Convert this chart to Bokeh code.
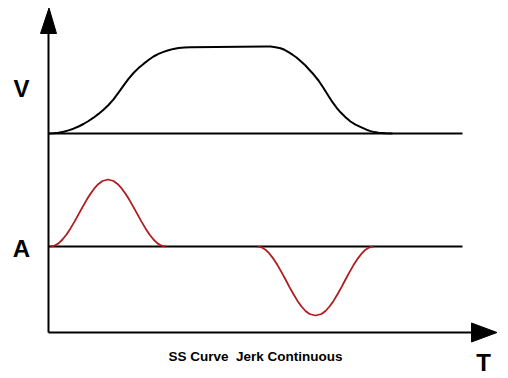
from bokeh.plotting import figure
from bokeh.models import Range1d
from bokeh.core.properties import value
from bokeh.embed import file_html
from bokeh.resources import INLINE

# Velocity curve (time, value above V baseline)
v_t = [0, 5, 10, 15, 20, 25, 30, 35, 40, 45, 50, 55, 60, 65, 70, 75, 80, 85, 90, 95,
       100, 105, 110, 115, 120, 125, 130, 136, 142,
       217, 222, 227, 232, 236, 240, 244, 248, 252, 257, 261, 265, 270, 275, 280, 284,
       288, 292, 297, 302, 307, 314, 318, 322, 326, 330, 337, 344]
v_val = [0, 0.3, 0.8, 1.8, 3.1, 4.8, 7, 9.5, 12.5, 15.8, 19.6, 23.8, 28.5, 34.2, 40.8, 47.8,
         54.7, 60.5, 65.4, 69.6, 73.5, 77, 79.6, 81.6, 83.3, 84.6, 85.5, 86, 86.3,
         87, 86.9, 86.3, 85.2, 83.7, 81.3, 78.8, 76, 72.5, 68, 63.5, 59.2, 53, 45.5, 37.5, 31.3,
         25.8, 21.2, 16.3, 12, 8.8, 5.7, 3.8, 2.4, 1.4, 0.7, 0.2, 0]

# Acceleration pulses (time, value relative to A baseline)
a_pos_t = [2, 6, 10, 14, 18, 22, 26, 30, 34, 38, 42, 46, 50, 54, 59.5,
           65, 69, 73, 77, 81, 85, 89, 93, 97, 101, 105, 109, 113, 117]
a_pos = [0, 0.8, 3.1, 7, 12, 18.1, 24.9, 32.1, 39.4, 46.4, 52.8, 58.3, 62.6, 65.5, 67,
         65.5, 62.6, 58.3, 52.8, 46.4, 39.4, 32.1, 24.9, 18.1, 12, 7, 3.1, 0.8, 0]
a_neg_t = [209, 213, 217, 221, 225, 229, 233, 237, 241, 245, 249, 253, 257, 261, 267,
           273, 277, 281, 285, 289, 293, 297, 301, 305, 309, 313, 317, 321, 325]
a_neg = [0, -0.8, -3.2, -7.2, -12.4, -18.6, -25.6, -33, -40.6, -47.8, -54.4, -60, -64.5, -67.5, -69,
         -67.5, -64.5, -60, -54.4, -47.8, -40.6, -33, -25.6, -18.6, -12.4, -7.2, -3.2, -0.8, 0]

# Panel baselines and extents
V_BASE = 199
A_BASE = 86
T_END = 414
AXIS_TOP = 300
AXIS_RIGHT = 424

labels = ["V", "A", "T"]
caption = "SS Curve\u00a0 Jerk Continuous"

p = figure(width=508, height=378, output_backend="svg", toolbar_location=None,
           x_range=Range1d(-48, 460), y_range=Range1d(-46, 332), min_border=0)
p.axis.visible = False
p.grid.visible = False
p.outline_line_color = None
p.background_fill_color = "white"
p.border_fill_color = "white"

# axes
p.line([0, 0], [0, AXIS_TOP], line_color="black", line_width=2)
p.line([0, AXIS_RIGHT], [0, 0], line_color="black", line_width=2)
p.patch([-8, 8, 0.5], [AXIS_TOP - 1, AXIS_TOP - 1, 324.5], fill_color="black", line_color="black")
p.patch([AXIS_RIGHT - 1, AXIS_RIGHT - 1, 448.5], [-9.5, 9.5, 0], fill_color="black", line_color="black")

# baselines
p.line([0, T_END], [V_BASE, V_BASE], line_color="black", line_width=2)
p.line([0, T_END], [A_BASE, A_BASE], line_color="black", line_width=2)

# curves
p.line(v_t, [V_BASE + v for v in v_val], line_color="black", line_width=2, line_join="round")
p.line(a_pos_t, [A_BASE + a for a in a_pos], line_color="#b01c1e", line_width=1.8, line_join="round")
p.line(a_neg_t, [A_BASE + a for a in a_neg], line_color="#b01c1e", line_width=1.8, line_join="round")

# labels
p.text(x=[-27, -27, 435], y=[244, 84, -29.5], text=labels,
       text_font=value("Liberation Sans"), text_font_style="bold", text_font_size="24px",
       text_align="center", text_baseline="middle", text_color="black")
p.text(x=[207], y=[-24], text=[caption],
       text_font=value("Liberation Sans"), text_font_style="bold", text_font_size="13.5px",
       text_align="center", text_baseline="middle", text_color="black")

open("out.html", "w").write(file_html(p, INLINE))
